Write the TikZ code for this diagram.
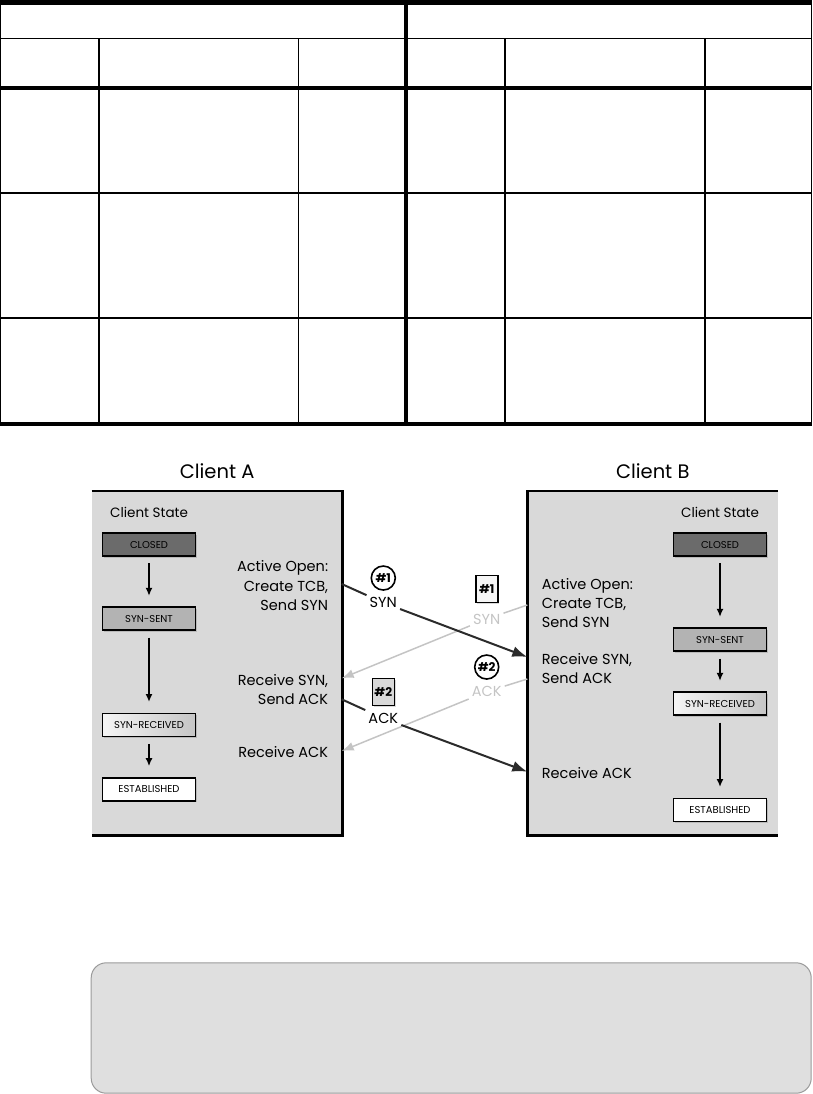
\documentclass[tikz,border=0pt]{standalone}
\usepackage{fontspec}
\setmainfont{Poppins}
\usepackage{tikz}
\usetikzlibrary{arrows.meta, positioning, shadows}
\usepackage{xcolor}

\definecolor{panelgray}{HTML}{D9D9D9}
\definecolor{closedgray}{HTML}{6B6B6B}
\definecolor{sentgray}{HTML}{B3B3B3}
\definecolor{ghostgray}{HTML}{C4C4C4}
\definecolor{ink}{HTML}{2B2B2B}
\definecolor{notegray}{HTML}{DFDFDF}
\definecolor{noteline}{HTML}{9A9A9A}

\begin{document}
\begin{tikzpicture}[
  x=1pt, y=-1pt,
  thinrule/.style={line width=1.2pt},
  thickrule/.style={line width=4pt},
  panel/.style={rectangle, fill=panelgray, inner sep=0pt, anchor=north west,
                minimum width=250.5pt, minimum height=344pt},
  rim/.style={line width=2.8pt, line join=miter},
  title/.style={font=\fontsize{19.5}{23}\selectfont, inner sep=0pt},
  colhead/.style={font=\fontsize{13.5}{16}\selectfont, inner sep=0pt},
  state/.style={rectangle, draw, line width=1.8pt, inner sep=0pt,
                minimum width=93pt, minimum height=23pt,
                font=\fontsize{10}{12}\selectfont,
                drop shadow={opacity=0.35, shadow xshift=1.5pt, shadow yshift=-1.5pt}},
  act/.style={font=\fontsize{14.5}{17}\selectfont, inner sep=0pt},
  pkt/.style={font=\fontsize{14.5}{17}\selectfont, inner sep=3pt},
  tagc/.style={circle, draw, fill=white, line width=1.6pt, minimum size=24pt,
               inner sep=0pt, font=\bfseries\fontsize{12}{14}\selectfont},
  tags/.style={rectangle, draw, line width=1.6pt, minimum width=22pt,
               minimum height=27pt, inner sep=0pt,
               font=\bfseries\fontsize{12}{14}\selectfont,
               drop shadow={opacity=0.3, shadow xshift=1.2pt, shadow yshift=-1.2pt}},
  flow/.style={line width=1.6pt, -{Latex[length=8pt, width=7pt]},
               shorten <=6.5pt, shorten >=10.5pt},
  msg/.style={draw=ink, line width=2pt, -{Latex[length=15pt, width=11pt]}},
  ghost/.style={draw=ghostgray, line width=1.5pt, -{Latex[length=12pt, width=9pt]}},
  note/.style={rectangle, rounded corners=15pt, fill=notegray, draw=noteline,
               line width=1pt, anchor=north west, inner sep=0pt}
]
\useasboundingbox (0,0) rectangle (812,1094);

% ----- table -----
\foreach \x in {99,298.7,505,705}
  \draw[thinrule] (\x,38.3) -- (\x,424);
\foreach \y in {38.3,193,318}
  \draw[thinrule] (0.8,\y) -- (811.2,\y);
\draw[thinrule] (0.8,3) -- (0.8,424);
\draw[thinrule] (811.2,3) -- (811.2,424);
\draw[line width=5.5pt] (0,2.75) -- (812,2.75);
\draw[thickrule] (0,88) -- (812,88);
\draw[thickrule] (0,424) -- (812,424);
\draw[thickrule] (406,0) -- (406,426);

% ----- client A -----
\node[panel] (panelA) at (91.7,491) {};
\draw[rim] (panelA.north west) -- (panelA.north east)
  -- (panelA.south east) -- (panelA.south west);
\node[title, above=12pt of panelA] (titleA) {Client A};

\node[state, fill=closedgray, text=black] (aclosed) at (149,544.5) {CLOSED};
\node[colhead, above=14pt of aclosed] (astate) {Client State};
\node[state, fill=sentgray, below=49.5pt of aclosed] (asent) {SYN-SENT};
\node[state, left color=gray!8, right color=gray!45, below=81.3pt of asent] (arecv) {SYN-RECEIVED};
\node[state, fill=white, below=39.4pt of arecv] (aest) {ESTABLISHED};

\node[act, anchor=base east] (aopen) at (328.3,571.7) {Active Open:};
\node[act, anchor=base east] (atcb)  at (328.3,591)   {Create TCB,};
\node[act, anchor=base east] (asyn)  at (328.3,610)   {Send SYN};
\node[act, anchor=base east] (arsyn) at (328.3,685)   {Receive SYN,};
\node[act, anchor=base east] (aack)  at (328.3,704.3) {Send ACK};
\node[act, anchor=base east] (arack) at (328.3,757.3) {Receive ACK};

% ----- client B -----
\node[panel] (panelB) at (527.3,491) {};
\draw[rim] (panelB.north east) -- (panelB.north west)
  -- (panelB.south west) -- (panelB.south east);
\node[title, above=12pt of panelB] (titleB) {Client B};

\node[state, fill=closedgray, text=black] (bclosed) at (720,544.5) {CLOSED};
\node[colhead, above=14pt of bclosed] (bstate) {Client State};
\node[state, fill=sentgray, below=70.5pt of bclosed] (bsent) {SYN-SENT};
\node[state, left color=gray!8, right color=gray!45, below=39.2pt of bsent] (brecv) {SYN-RECEIVED};
\node[state, fill=white, below=81.3pt of brecv] (best) {ESTABLISHED};

\node[act, anchor=base west] (bopen) at (541.7,589)   {Active Open:};
\node[act, anchor=base west] (btcb)  at (541.7,608.3) {Create TCB,};
\node[act, anchor=base west] (bsyn)  at (541.7,627.7) {Send SYN};
\node[act, anchor=base west] (brsyn) at (541.7,664.3) {Receive SYN,};
\node[act, anchor=base west] (back)  at (541.7,683.3) {Send ACK};
\node[act, anchor=base west] (brack) at (541.7,778.3) {Receive ACK};

% ----- segments -----
\node[pkt] (syn1) at (383.3,602.7) {SYN};
\node[tagc, above=3.5pt of syn1] (tagA1) {\#1};
\node[pkt] (ack2) at (383.3,718.3) {ACK};
\node[tags, fill=gray!30, above=3.5pt of ack2] (tagA2) {\#2};

\node[pkt, text=ghostgray] (gsyn) at (486.7,619) {SYN};
\node[tags, fill=gray!8, above=7.5pt of gsyn] (tagB1) {\#1};
\node[pkt, text=ghostgray] (gack) at (486.7,691.7) {ACK};
\node[tagc, above=3.5pt of gack] (tagB2) {\#2};

\coordinate (aout1) at (341.7,584);
\coordinate (ain1)  at (341.7,678.3);
\coordinate (aout2) at (341.7,699.3);
\coordinate (ain2)  at (341.7,751);
\coordinate (bout1) at (527.3,605);
\coordinate (bin1)  at (527.3,657);
\coordinate (bout2) at (527.3,679);
\coordinate (bin2)  at (527.3,771.7);

% ----- note -----
\node[note, minimum width=720pt, minimum height=130.4pt] (note) at (90.7,962.3) {};

% ----- arrows -----
\draw[flow] (aclosed) -- (asent);
\draw[flow] (asent) -- (arecv);
\draw[flow] (arecv) -- (aest);
\draw[flow] (bclosed) -- (bsent);
\draw[flow] (bsent) -- (brecv);
\draw[flow] (brecv) -- (best);

\draw[ghost] (bout1) -- (gsyn) -- (ain1);
\draw[ghost] (bout2) -- (gack) -- (ain2);
\draw[msg] (aout1) -- (syn1) -- (bin1);
\draw[msg] (aout2) -- (ack2) -- (bin2);

\end{tikzpicture}
\end{document}
